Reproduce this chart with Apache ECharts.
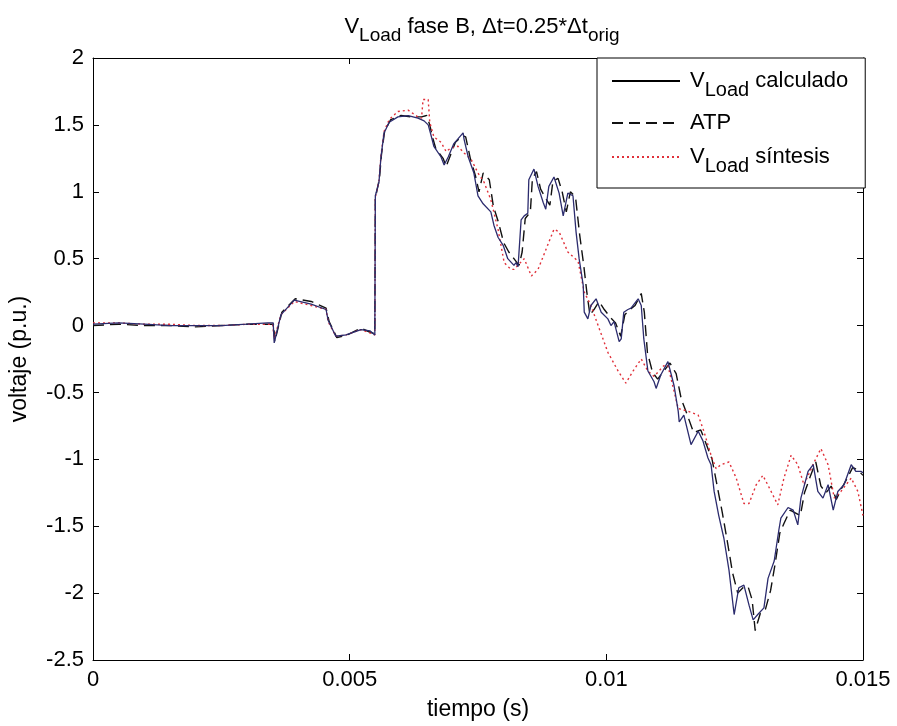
<!DOCTYPE html>
<html>
<head>
<meta charset="utf-8">
<script src="https://cdn.jsdelivr.net/npm/echarts@6/dist/echarts.min.js"></script>
<style>
  html, body { margin: 0; padding: 0; background: #fff; }
  #chart { width: 897px; height: 726px; }
</style>
</head>
<body>
<div id="chart"></div>
<script>
// Time axis limits and tick labels
const xTicks = [0, 0.005, 0.01, 0.015];
const yTicks = [-2.5, -2, -1.5, -1, -0.5, 0, 0.5, 1, 1.5, 2];

// V_Load calculado (solid)
const tCalc = [0, 0.0005, 0.001, 0.0015, 0.002, 0.0025, 0.003, 0.0034, 0.00351, 0.00353, 0.00366, 0.00392, 0.00425, 0.00454, 0.00458, 0.00473, 0.00493, 0.00522, 0.0054, 0.00549, 0.0055, 0.00557, 0.00561, 0.00567, 0.00577, 0.00594, 0.00614, 0.00633, 0.00645, 0.00653, 0.00658, 0.00664, 0.00678, 0.00684, 0.00692, 0.00703, 0.00721, 0.00723, 0.00731, 0.00742, 0.0075, 0.0076, 0.00775, 0.00781, 0.00789, 0.00799, 0.00808, 0.0082, 0.00824, 0.00828, 0.00834, 0.0084, 0.00847, 0.00849, 0.00859, 0.00867, 0.00877, 0.00882, 0.00888, 0.00898, 0.00908, 0.00916, 0.00925, 0.00935, 0.00941, 0.00947, 0.00955, 0.00957, 0.00964, 0.0097, 0.0098, 0.0099, 0.01003, 0.01009, 0.01015, 0.01025, 0.01029, 0.01034, 0.01042, 0.01048, 0.01062, 0.01068, 0.01073, 0.01081, 0.01093, 0.01097, 0.01106, 0.0112, 0.01132, 0.0114, 0.01142, 0.01151, 0.01165, 0.01179, 0.01188, 0.01198, 0.01204, 0.0121, 0.01219, 0.01229, 0.01239, 0.01249, 0.01258, 0.01268, 0.01278, 0.01286, 0.01295, 0.01307, 0.01315, 0.01327, 0.01336, 0.0134, 0.01354, 0.01364, 0.01373, 0.01379, 0.01393, 0.01403, 0.01412, 0.01422, 0.01432, 0.01442, 0.01451, 0.01463, 0.01477, 0.01486, 0.01496, 0.015];
const vCalc = [0.01, 0.02, 0.01, 0, 0, 0, 0.01, 0.02, 0.02, -0.13, 0.08, 0.19, 0.16, 0.12, 0.04, -0.08, -0.07, -0.03, -0.04, -0.07, 0.97, 1.07, 1.26, 1.44, 1.52, 1.56, 1.57, 1.55, 1.53, 1.5, 1.43, 1.34, 1.26, 1.2, 1.26, 1.36, 1.44, 1.39, 1.26, 1.14, 0.97, 0.91, 0.85, 0.75, 0.66, 0.6, 0.5, 0.45, 0.47, 0.44, 0.79, 0.82, 0.84, 1.09, 1.17, 1.04, 0.92, 0.87, 1.04, 1.11, 0.99, 0.82, 0.99, 0.97, 0.7, 0.5, 0.3, 0.1, 0.05, 0.15, 0.2, 0.1, 0.05, 0, 0.03, -0.12, -0.1, 0.1, 0.12, 0.13, 0.2, 0.15, -0.1, -0.34, -0.42, -0.47, -0.37, -0.27, -0.45, -0.64, -0.72, -0.67, -0.89, -0.79, -0.86, -0.99, -1.04, -1.24, -1.42, -1.59, -1.83, -2.16, -1.96, -1.94, -2.09, -2.2, -2.16, -2.11, -1.89, -1.76, -1.53, -1.44, -1.36, -1.38, -1.49, -1.29, -1.09, -1.04, -1.24, -1.29, -1.19, -1.38, -1.24, -1.19, -1.04, -1.09, -1.09, -1.1];

// ATP (dashed)
const tAtp = [0, 0.0005, 0.001, 0.0015, 0.002, 0.0025, 0.003, 0.0034, 0.00352, 0.00354, 0.00368, 0.00394, 0.00425, 0.00454, 0.0046, 0.00475, 0.00495, 0.00522, 0.0054, 0.00549, 0.0055, 0.00558, 0.00562, 0.00568, 0.0058, 0.006, 0.0062, 0.0064, 0.0065, 0.00656, 0.00662, 0.00668, 0.00682, 0.00688, 0.00696, 0.00706, 0.0072, 0.00726, 0.00735, 0.00745, 0.00752, 0.0076, 0.00772, 0.0078, 0.0079, 0.008, 0.0081, 0.0082, 0.0083, 0.00836, 0.00842, 0.00852, 0.00856, 0.00864, 0.00872, 0.00882, 0.0089, 0.00896, 0.00906, 0.00914, 0.00922, 0.0093, 0.0094, 0.00948, 0.00956, 0.00962, 0.00968, 0.00976, 0.00986, 0.00996, 0.01008, 0.01018, 0.01028, 0.01036, 0.01046, 0.01056, 0.01068, 0.01074, 0.0108, 0.0109, 0.011, 0.0111, 0.01124, 0.01136, 0.01146, 0.01156, 0.0117, 0.01184, 0.01196, 0.01206, 0.01216, 0.01226, 0.01236, 0.01246, 0.01256, 0.01266, 0.01276, 0.01284, 0.0129, 0.013, 0.0131, 0.0132, 0.01328, 0.01338, 0.01346, 0.01358, 0.01368, 0.01378, 0.01386, 0.01398, 0.01408, 0.01418, 0.01428, 0.01438, 0.01448, 0.01458, 0.01468, 0.0148, 0.0149, 0.015];
const vAtp = [0, 0.01, 0, 0, -0.01, 0, 0.01, 0.01, 0.01, -0.12, 0.1, 0.2, 0.18, 0.13, 0.03, -0.09, -0.07, -0.02, -0.05, -0.06, 0.95, 1.1, 1.28, 1.45, 1.54, 1.57, 1.56, 1.56, 1.57, 1.5, 1.4, 1.32, 1.25, 1.19, 1.27, 1.37, 1.42, 1.41, 1.25, 1.12, 1, 1.14, 1.09, 0.89, 0.77, 0.62, 0.55, 0.5, 0.45, 0.55, 0.8, 0.85, 1.1, 1.15, 1.02, 0.95, 0.9, 1.08, 1.1, 1, 0.85, 1, 0.96, 0.68, 0.45, 0.25, 0.08, 0.12, 0.18, 0.12, 0.06, 0.02, -0.08, 0.08, 0.12, 0.15, 0.24, 0.1, -0.2, -0.35, -0.4, -0.35, -0.28, -0.36, -0.55, -0.65, -0.8, -0.78, -0.9, -1, -1.2, -1.4, -1.62, -1.85, -2, -1.96, -1.95, -2.05, -2.28, -2.15, -2.12, -1.98, -1.8, -1.55, -1.48, -1.38, -1.4, -1.42, -1.25, -1.12, -1.02, -1.2, -1.25, -1.2, -1.3, -1.22, -1.15, -1.06, -1.08, -1.12];

// V_Load síntesis (dotted)
const tSint = [0, 0.0005, 0.001, 0.0015, 0.002, 0.0025, 0.003, 0.0035, 0.00353, 0.00366, 0.00392, 0.00425, 0.00454, 0.00458, 0.00473, 0.00493, 0.00522, 0.00549, 0.0055, 0.00557, 0.00561, 0.00567, 0.00577, 0.00594, 0.00614, 0.00633, 0.0064, 0.00643, 0.00653, 0.00656, 0.00664, 0.00678, 0.00688, 0.00698, 0.00711, 0.00723, 0.00737, 0.0075, 0.00762, 0.00775, 0.00789, 0.00801, 0.00814, 0.0082, 0.0084, 0.00854, 0.00867, 0.00898, 0.00908, 0.00925, 0.00945, 0.00957, 0.0097, 0.00984, 0.01003, 0.01023, 0.01038, 0.01052, 0.01068, 0.01081, 0.01093, 0.01112, 0.0112, 0.0114, 0.01159, 0.01179, 0.0119, 0.01204, 0.01214, 0.01223, 0.01239, 0.01253, 0.01268, 0.01278, 0.01292, 0.01305, 0.01317, 0.01334, 0.01346, 0.0136, 0.01373, 0.01385, 0.01405, 0.01418, 0.01432, 0.01444, 0.01457, 0.01477, 0.0149, 0.015];
const vSint = [0.02, 0.02, 0.01, 0.01, 0, 0, 0.01, 0.01, -0.1, 0.08, 0.18, 0.15, 0.12, 0.03, -0.08, -0.07, -0.03, -0.07, 0.96, 1.08, 1.27, 1.45, 1.54, 1.6, 1.61, 1.56, 1.55, 1.69, 1.69, 1.52, 1.41, 1.37, 1.3, 1.33, 1.34, 1.29, 1.24, 1.14, 1.07, 0.94, 0.72, 0.47, 0.42, 0.42, 0.5, 0.37, 0.42, 0.72, 0.7, 0.55, 0.48, 0.25, 0.15, 0, -0.2, -0.34, -0.43, -0.34, -0.25, -0.34, -0.38, -0.3, -0.3, -0.62, -0.64, -0.67, -0.79, -0.97, -1.07, -1.04, -1.02, -1.14, -1.33, -1.33, -1.19, -1.12, -1.21, -1.34, -1.14, -0.97, -1.04, -1.19, -1.02, -0.92, -1.04, -1.29, -1.24, -1.14, -1.24, -1.42];

const seriesNames = ['V_Load calculado', 'ATP', 'V_Load síntesis'];

const pairs = (t, v) => t.map((x, i) => [x, v[i]]);
const FONT = '"Liberation Sans", Arial, sans-serif';

const chart = echarts.init(document.getElementById('chart'), null, { renderer: 'canvas' });

const legendLabel = {
  'V_Load calculado': '{v|V}{s|Load}{v| calculado}',
  'ATP': '{v|ATP}',
  'V_Load síntesis': '{v|V}{s|Load}{v| síntesis}'
};

const axisCommon = {
  type: 'value',
  axisLine: { show: true, onZero: false, lineStyle: { color: '#000', width: 1 } },
  axisTick: { show: true, inside: true, length: 6, lineStyle: { color: '#000' } },
  splitLine: { show: false }
};

chart.setOption({
  animation: false,
  backgroundColor: '#fff',
  title: {
    text: '{v|V}{s|Load}{v| fase B, Δt=0.25*Δt}{s|orig}',
    left: 477,
    textAlign: 'center',
    top: 3,
    textStyle: {
      fontWeight: 'normal',
      rich: {
        v: { fontFamily: FONT, fontSize: 22, fontWeight: 'normal', color: '#000' },
        s: { fontFamily: FONT, fontSize: 19, fontWeight: 'normal', color: '#000', padding: [18, 0, 0, 0] }
      }
    }
  },
  legend: {
    orient: 'vertical',
    left: 597,
    top: 58,
    padding: [12, 17, 12, 14],
    itemGap: 12,
    itemWidth: 68,
    itemHeight: 14,
    backgroundColor: '#fff',
    borderColor: '#000',
    borderWidth: 1,
    borderRadius: 0,
    itemStyle: { opacity: 0 },
    data: [
      { name: seriesNames[0], lineStyle: { color: '#000' } },
      { name: seriesNames[1] },
      { name: seriesNames[2] }
    ],
    formatter: (name) => legendLabel[name],
    textStyle: {
      padding: [0, 0, 0, 5],
      rich: {
        v: { fontFamily: FONT, fontSize: 22, color: '#000' },
        s: { fontFamily: FONT, fontSize: 20, color: '#000', padding: [18, 0, 0, 0] }
      }
    }
  },
  grid: { left: 92, right: 34, top: 58, bottom: 63, containLabel: false },
  xAxis: [
    Object.assign({}, axisCommon, {
      position: 'bottom',
      min: xTicks[0], max: xTicks[xTicks.length - 1], interval: 0.005,
      name: 'tiempo (s)', nameLocation: 'middle', nameGap: 38,
      nameTextStyle: { fontFamily: FONT, fontSize: 23, color: '#000' },
      axisLabel: { show: true, margin: 9, color: '#000', fontFamily: FONT, fontSize: 22 }
    }),
    Object.assign({}, axisCommon, {
      position: 'top',
      min: xTicks[0], max: xTicks[xTicks.length - 1], interval: 0.005,
      axisLabel: { show: false }
    })
  ],
  yAxis: [
    Object.assign({}, axisCommon, {
      position: 'left',
      min: yTicks[0], max: yTicks[yTicks.length - 1], interval: 0.5,
      name: 'voltaje (p.u.)', nameLocation: 'middle', nameGap: 62, nameRotate: 90,
      nameTextStyle: { fontFamily: FONT, fontSize: 23, color: '#000' },
      axisLabel: { show: true, margin: 9, color: '#000', fontFamily: FONT, fontSize: 22 }
    }),
    Object.assign({}, axisCommon, {
      position: 'right',
      min: yTicks[0], max: yTicks[yTicks.length - 1], interval: 0.5,
      axisLabel: { show: false }
    })
  ],
  series: [
    {
      name: seriesNames[1], type: 'line', symbol: 'none', xAxisIndex: 0, yAxisIndex: 0,
      data: pairs(tAtp, vAtp),
      lineStyle: { color: '#111', width: 1.4, type: [11, 6] },
      itemStyle: { color: '#111' }
    },
    {
      name: seriesNames[2], type: 'line', symbol: 'none', xAxisIndex: 0, yAxisIndex: 0,
      data: pairs(tSint, vSint),
      lineStyle: { color: '#e0303a', width: 1.4, type: [2, 3] },
      itemStyle: { color: '#e0303a' }
    },
    {
      name: seriesNames[0], type: 'line', symbol: 'none', xAxisIndex: 0, yAxisIndex: 0,
      data: pairs(tCalc, vCalc),
      lineStyle: { color: '#2c2c6e', width: 1.3 },
      itemStyle: { color: '#2c2c6e' }
    }
  ]
});
</script>
</body>
</html>
